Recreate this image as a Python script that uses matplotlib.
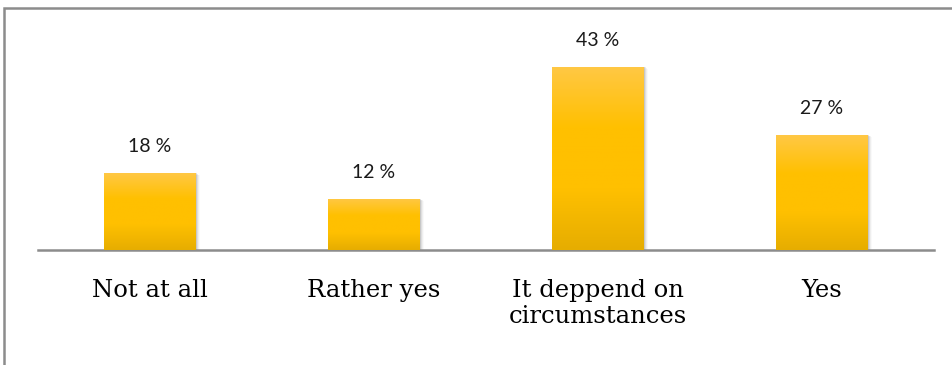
import numpy as np
import matplotlib
matplotlib.use("Agg")
import matplotlib.pyplot as plt
from matplotlib.colors import LinearSegmentedColormap
from matplotlib.patches import Rectangle

# survey answers and their shares
categories = ["Not at all", "Rather yes", "It deppend on\ncircumstances", "Yes"]
values = [18, 12, 43, 27]

fig = plt.figure(figsize=(9.52, 3.65), dpi=100)
ax = fig.add_axes([38 / 952, 115 / 365, 896 / 952, 230 / 365])

# outer frame of the chart area
fig.patches.append(Rectangle((4 / 952, -0.1), 1.2, (357 / 365) + 0.1,
                             transform=fig.transFigure, fill=False,
                             edgecolor="#8c8c8c", linewidth=1.8))

x = np.arange(len(categories))
width = 0.41
bars = ax.bar(x, values, width=width, color="none", edgecolor="none", zorder=3)

grad = LinearSegmentedColormap.from_list(
    "gold", ["#e6ad00", "#ffc000", "#ffc000", "#ffc845"])
shade = np.linspace(0, 1, 256).reshape(-1, 1)

for b, v in zip(bars, values):
    x0, w, h = b.get_x(), b.get_width(), b.get_height()
    # soft drop shadow on the right
    for i, a in enumerate([0.16, 0.10, 0.06, 0.03]):
        ax.add_patch(Rectangle((x0 + 0.005 * (i + 1), 0), w, h - 0.15 * i,
                               facecolor="#505050", edgecolor="none",
                               alpha=a, zorder=2))
    im = ax.imshow(shade, cmap=grad, aspect="auto", origin="lower",
                   extent=(x0, x0 + w, 0, h), zorder=3)
    im.set_clip_path(b)
    ax.annotate(f"{v} %", (x0 + w / 2, h), xytext=(0, 13),
                textcoords="offset points", ha="center", va="bottom",
                fontsize=14, family="Lato", color="#1a1a1a")

ax.set_xlim(-0.5, len(categories) - 0.5)
ax.set_ylim(0, 54)
ax.set_yticks([])
ax.set_xticks(x)
ax.set_xticklabels(categories, family="DejaVu Serif", fontsize=17.5,
                   linespacing=1.15)
ax.tick_params(axis="x", length=0, pad=21)
for s in ["top", "right", "left"]:
    ax.spines[s].set_visible(False)
ax.spines["bottom"].set_color("#8c8c8c")
ax.spines["bottom"].set_linewidth(1.8)
ax.set_facecolor("none")

fig.savefig("out.png", dpi=100)
